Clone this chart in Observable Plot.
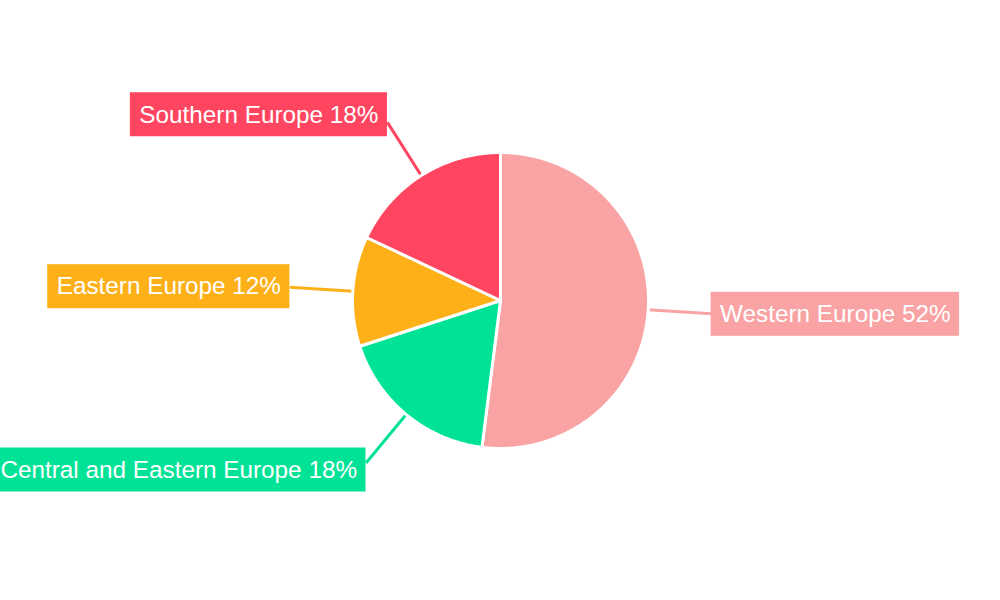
<!DOCTYPE html>
<html><head><meta charset="utf-8">
<script src="https://cdn.jsdelivr.net/npm/d3@7"></script>
<script src="https://cdn.jsdelivr.net/npm/@observablehq/plot@0.6"></script>
<style>html,body{margin:0;padding:0;background:#fff;}</style>
</head><body><div id="chart"></div>
<script>
// Data
const regions = ["Western Europe", "Central and Eastern Europe", "Eastern Europe", "Southern Europe"];
const shares = [52, 18, 12, 18];
const colors = ["#F9A3A4", "#00E396", "#FEB019", "#FF4560"];

// Layout
const W = 1000, H = 600, CX = 500, CY = 300, R = 148;
const fontFamily = "'Liberation Sans', Arial, Helvetica, sans-serif";
const fontSize = 24.3;
const lineEndR = 211 / R, labelR = 220 / R, padX = 9, boxH = 44;

const pie = d3.pie().sort(null).value(d => d.value)(regions.map((name, i) => ({name, value: shares[i]})));

const polys = [];
pie.forEach(s => {
  const name = s.data.name;
  const n = Math.max(2, Math.ceil((s.endAngle - s.startAngle) / (Math.PI / 360)));
  polys.push({name, x: 0, y: 0});
  for (let k = 0; k <= n; k++) {
    const a = s.startAngle + (s.endAngle - s.startAngle) * k / n;
    polys.push({name, x: Math.sin(a), y: Math.cos(a)});
  }
  polys.push({name, x: 0, y: 0});
});

const ctx = document.createElement("canvas").getContext("2d");
ctx.font = `${fontSize}px ${fontFamily}`;
const labels = pie.map(s => {
  const name = s.data.name;
  const a = (s.startAngle + s.endAngle) / 2;
  const sx = Math.sin(a), cy = Math.cos(a);
  const text = `${name} ${s.data.value}%`;
  const w = (ctx.measureText(text).width + 2 * padX) / R;
  const ex = sx * lineEndR, ey = cy * lineEndR;
  const yc = cy * labelR;
  const right = sx >= 0;
  const x1 = right ? ex : ex - w, x2 = right ? ex + w : ex;
  return {name, text, lx1: sx, ly1: cy, lx2: ex, ly2: ey,
          x1, x2, y1: yc - boxH / 2 / R, y2: yc + boxH / 2 / R, tx: (x1 + x2) / 2, ty: yc};
});

const chart = Plot.plot({
  width: W, height: H, margin: 0,
  x: {domain: [-CX / R, (W - CX) / R], axis: null},
  y: {domain: [-(H - CY) / R, CY / R], axis: null},
  color: {domain: regions, range: colors},
  style: {background: "white", overflow: "visible"},
  marks: [
    Plot.link(labels, {x1: "lx1", y1: "ly1", x2: "lx2", y2: "ly2", stroke: "name", strokeWidth: 3}),
    Plot.line(polys, {x: "x", y: "y", z: "name", fill: "name", stroke: "white", strokeWidth: 3, strokeLinejoin: "round", curve: "linear"}),
    Plot.rect(labels, {x1: "x1", x2: "x2", y1: "y1", y2: "y2", fill: "name"}),
    Plot.text(labels, {x: "tx", y: "ty", text: "text", fill: "white", fontSize, fontFamily, textAnchor: "middle"})
  ]
});
document.getElementById("chart").appendChild(chart);
</script>
</body></html>
